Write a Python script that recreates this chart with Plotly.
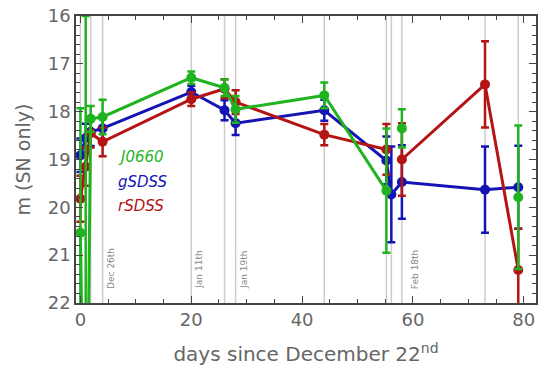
import plotly.graph_objects as go

# observation days (days since Dec 22)
days = [0.0, 0.95, 1.85, 4.0, 20.0, 26.0, 28.0, 44.0, 55.2, 56.1, 58.0, 73.0, 79.0]

# magnitudes (None = no detection in that band)
g_mag = [18.91, 18.55, 18.42, 18.35, 17.59, 17.97, 18.24, 17.97, 19.02, 19.73, 19.47, 19.63, 19.58]
g_err = [0.35, 0.30, 0.30, 0.25, 0.13, 0.21, 0.25, 0.22, 0.50, 1.00, 0.77, 0.90, 0.87]

r_mag = [19.82, 19.15, 18.45, 18.63, 17.74, 17.52, 17.80, 18.48, 18.79, None, 19.00, 17.43, 21.31]
r_err = [0.48, 0.40, 0.30, 0.30, 0.14, 0.20, 0.25, 0.22, 0.53, None, 0.76, 0.90, 0.86]

j_mag = [20.53, 28.0, 18.15, 18.11, 17.29, 17.50, 17.95, 17.66, 19.65, None, 18.35, None, 19.79]
j_err = [2.60, 12.0, 0.27, 0.36, 0.13, 0.17, 0.28, 0.27, 1.30, None, 0.40, None, 1.50]

# dates marked by vertical lines
line_days = [0.0, 1.85, 4.0, 20.0, 26.0, 28.0, 44.0, 55.2, 56.1, 58.0, 73.0, 79.0]
date_labels = ["Dec 26th", "Jan 11th", "Jan 19th", "Feb 18th"]
date_label_days = [5.4, 21.35, 29.5, 60.3]

names = ["gSDSS", "rSDSS", "J0660"]
colors = ["#1414b4", "#b41414", "#1fb41f"]

FONT = "DejaVu Sans"

fig = go.Figure()
for name, col, mag, err in zip(names, colors, [g_mag, r_mag, j_mag], [g_err, r_err, j_err]):
    fig.add_trace(go.Scatter(
        x=days, y=mag, name=name, mode="lines+markers",
        line=dict(color=col, width=3),
        marker=dict(color=col, size=10),
        error_y=dict(type="data", array=[e if e is not None else 0 for e in err],
                     color=col, thickness=2.5, width=4, visible=True),
        connectgaps=False, showlegend=False,
    ))

for d in line_days:
    fig.add_shape(type="line", x0=d, x1=d, y0=0, y1=1, xref="x", yref="paper",
                  line=dict(color="#cccccc", width=1.5), layer="below")

for txt, d in zip(date_labels, date_label_days):
    fig.add_annotation(x=d, y=21.75, text=txt, textangle=-90, showarrow=False,
                       xanchor="center", yanchor="bottom",
                       font=dict(family=FONT, size=9, color="#888888"))

for name, col, yy in zip(["J0660", "gSDSS", "rSDSS"], ["#1fb41f", "#1414b4", "#b41414"], [18.95, 19.46, 19.98]):
    fig.add_annotation(x=6.4, y=yy, text="<i>" + name + "</i>", showarrow=False,
                       xanchor="left", yanchor="middle",
                       font=dict(family=FONT, size=15, color=col))

axis_common = dict(
    showline=True, linecolor="#444444", linewidth=1.5, mirror="allticks",
    ticks="inside", ticklen=7, tickwidth=1, tickcolor="#444444",
    showgrid=False, zeroline=False, automargin=False, ticklabeloverflow="allow",
    tickfont=dict(family=FONT, size=18, color="#666666"),
)

fig.update_xaxes(range=[-0.8, 82.2], dtick=20, tick0=0,
                 minor=dict(dtick=5, ticks="inside", ticklen=4, tickcolor="#444444"),
                 title=dict(text="days since December 22<sup>nd</sup>",
                            font=dict(family=FONT, size=20, color="#666666"), standoff=18),
                 **axis_common)
fig.update_yaxes(range=[22, 16], dtick=1, tick0=16,
                 minor=dict(dtick=0.2, ticks="inside", ticklen=4, tickcolor="#444444"),
                 title=dict(text="m (SN only)",
                            font=dict(family=FONT, size=19, color="#666666"), standoff=12),
                 **axis_common)

fig.update_layout(
    width=542, height=387,
    margin=dict(l=76, r=6, t=16, b=84),
    paper_bgcolor="white", plot_bgcolor="white",
    showlegend=False,
)

# remove the browser's default 8px body margin so the figure sits at the page origin
fig.write_html("out.html", config={"displayModeBar": False},
               post_script="document.body.style.margin='0';")
